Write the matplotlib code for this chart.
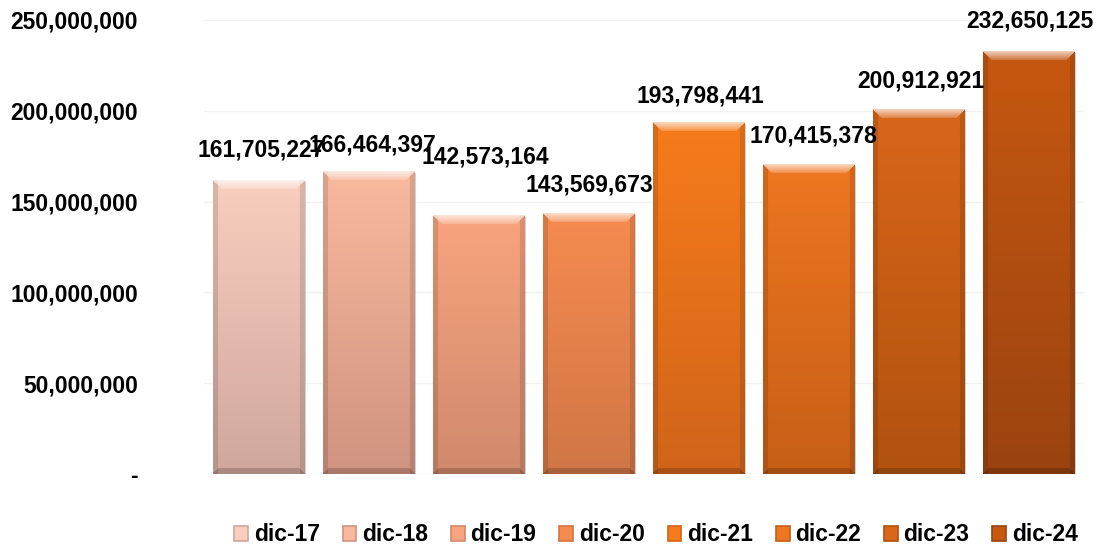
import numpy as np
import matplotlib
matplotlib.use('Agg')
import matplotlib.pyplot as plt
from matplotlib.patches import Patch
from matplotlib.colors import to_rgb
from matplotlib.ticker import FuncFormatter, FixedLocator

# ---------------- data ----------------
categories = ['dic-17', 'dic-18', 'dic-19', 'dic-20', 'dic-21', 'dic-22', 'dic-23', 'dic-24']
values = [161705227, 166464397, 142573164, 143569673, 193798441, 170415378, 200912921, 232650125]
y_ticks = [0, 50000000, 100000000, 150000000, 200000000, 250000000]

# ---------------- style ----------------
top_colors = ['#F8CEBE', '#F9B99D', '#F8A47E', '#F68B4F', '#F77B1C', '#EE7620', '#D9661A', '#C65810']
bottom_colors = ['#D0A79D', '#D09381', '#CF8A6C', '#D07646', '#D0641A', '#C65F17', '#B1520F', '#9A4310']
# label offsets (pixels) from the top-centre of each bar
label_dx = [2, 3, 6, 0, 1, 4, 2, 1]
label_dy = [30, 27, 58, 28, 26, 29, 28, 31]

FS = 16.5
plt.rcParams['font.family'] = ['Liberation Sans', 'DejaVu Sans']
plt.rcParams['font.weight'] = 'bold'

fig = plt.figure(figsize=(10.99, 5.48), dpi=100)
ax = fig.add_axes([204 / 1099, 1 - 474 / 548, 880 / 1099, 454 / 548])
x = np.arange(len(categories))
ax.set_xlim(-0.5, len(categories) - 0.5)
ax.set_ylim(y_ticks[0], y_ticks[-1])

width = 0.83
bars = ax.bar(x, values, width=width, color='none', edgecolor='none', zorder=3)

p0 = ax.transData.transform((0, 0))
p1 = ax.transData.transform((1, 1e6))
px_per_x = p1[0] - p0[0]
px_per_y = (p1[1] - p0[1]) / 1e6

for i, (b, v) in enumerate(zip(bars, values)):
    W = int(round(width * px_per_x))
    H = max(int(round(v * px_per_y)), 2)
    top = np.array(to_rgb(top_colors[i]))
    bot = np.array(to_rgb(bottom_colors[i]))
    t = np.linspace(0, 1, H)[:, None, None]
    img = top[None, None, :] * (1 - t) + bot[None, None, :] * t
    img = np.repeat(img, W, axis=1)
    bev = 9
    yy, xx = np.mgrid[0:H, 0:W]
    side = (xx < 5) | (xx >= W - 5)
    img[side] = img[side] * 0.88
    botm = (yy >= H - 6) & ((H - 1 - yy) <= xx) & ((H - 1 - yy) <= (W - 1 - xx))
    img[botm] = img[botm] * 0.82
    topm = (yy < bev) & (yy <= xx) & (yy <= W - 1 - xx)
    grad = (1 - yy / bev) * 0.55 + 0.15
    img[topm] = img[topm] * (1 - grad[topm][:, None]) + grad[topm][:, None] * 1.0
    img = np.clip(img, 0, 1)
    x0 = b.get_x()
    ax.bar(x[i] + 1.5 / px_per_x, v, width=width, bottom=-1.5 / px_per_y,
           color='#7f7f7f', alpha=0.35, edgecolor='none', zorder=2)
    ax.imshow(img, extent=(x0, x0 + width, 0, v), aspect='auto',
              interpolation='bilinear', zorder=3, origin='upper')
    ax.annotate(f'{v:,.0f}', (x[i], v), xytext=(label_dx[i], label_dy[i]),
                textcoords='offset pixels', ha='center', va='center',
                fontsize=FS, fontweight='bold', color='black', zorder=5)

ax.set_xlim(-0.5, len(categories) - 0.5)
ax.set_ylim(y_ticks[0], y_ticks[-1])
ax.yaxis.set_major_locator(FixedLocator(y_ticks))
ax.yaxis.set_major_formatter(FuncFormatter(lambda v, p: '-' if v == 0 else f'{v:,.0f}'))
ax.set_xticks([])
ax.grid(axis='y', color='#F2F2F2', linewidth=1, zorder=0)
ax.set_axisbelow(True)
for s in ax.spines.values():
    s.set_visible(False)
ax.tick_params(axis='y', length=0, pad=47.5, labelsize=FS)
for lab in ax.get_yticklabels():
    lab.set_fontweight('bold')

handles = []
for i in range(len(categories)):
    handles.append(Patch(facecolor=top_colors[i], edgecolor=bottom_colors[i], linewidth=1.2))
fig.legend(handles, categories, loc='center', bbox_to_anchor=(0.597, 0.024), ncol=8,
           frameon=False, handlelength=0.6, handleheight=0.6,
           handletextpad=0.25, columnspacing=1.0, prop={'weight': 'bold', 'size': FS})

fig.savefig('out.png', dpi=100)
